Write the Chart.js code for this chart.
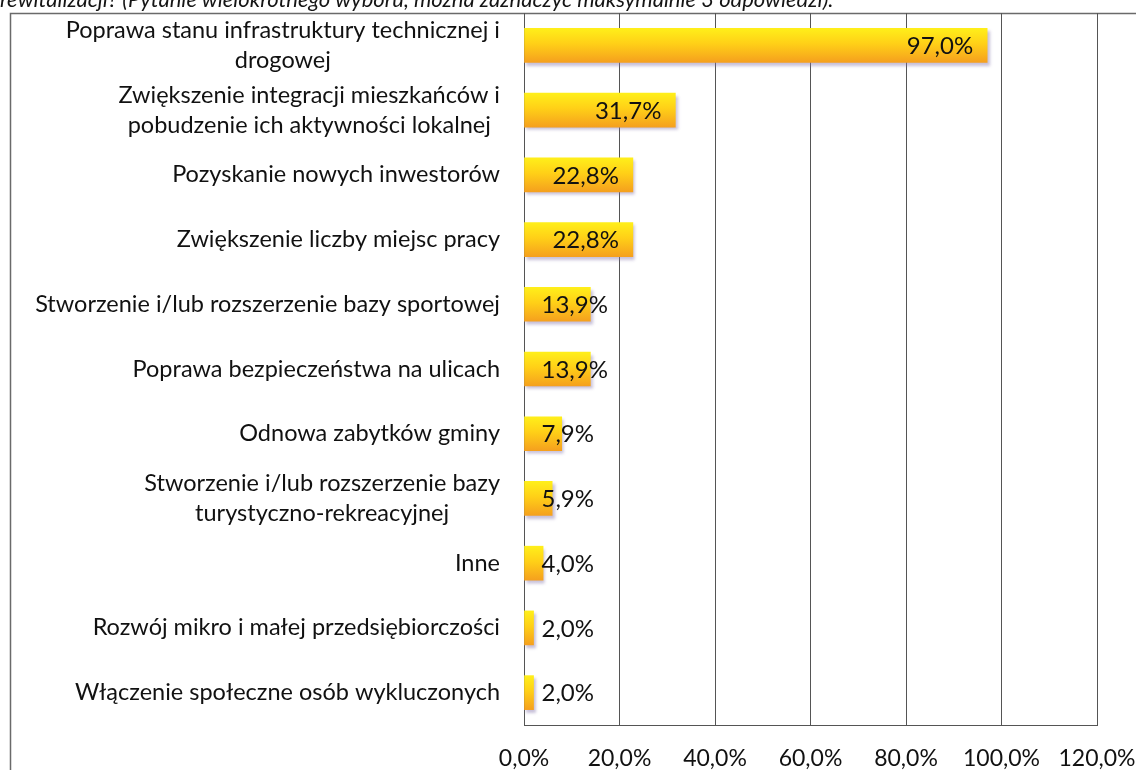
<!DOCTYPE html>
<html><head><meta charset="utf-8">
<script src="https://cdn.jsdelivr.net/npm/chart.js@4/dist/chart.umd.min.js"></script>
<style>
html,body{margin:0;padding:0;background:#fff;overflow:hidden}
#wrap{position:relative;width:1136px;height:770px;overflow:hidden}
#title{position:absolute;left:0;top:-15px;font:italic 22px Lato, sans-serif;color:#151515;white-space:nowrap}
canvas{position:absolute;left:0;top:0}
</style></head><body>
<div id="wrap"><canvas id="c" width="1136" height="770"></canvas><div id="title">rewitalizacji? (Pytanie wielokrotnego wyboru, można zaznaczyć maksymalnie 3 odpowiedzi).</div></div>
<script>
const categories = [
  ["Poprawa stanu infrastruktury technicznej i", "drogowej"],
  ["Zwiększenie integracji mieszkańców i", "pobudzenie ich aktywności lokalnej"],
  "Pozyskanie nowych inwestorów",
  "Zwiększenie liczby miejsc pracy",
  "Stworzenie i/lub rozszerzenie bazy sportowej",
  "Poprawa bezpieczeństwa na ulicach",
  "Odnowa zabytków gminy",
  ["Stworzenie i/lub rozszerzenie bazy", "turystyczno-rekreacyjnej"],
  "Inne",
  "Rozwój mikro i małej przedsiębiorczości",
  "Włączenie społeczne osób wykluczonych"
];
const values = [97.0, 31.7, 22.8, 22.8, 13.9, 13.9, 7.9, 5.9, 4.0, 2.0, 2.0];
const xTickValues = [0, 20, 40, 60, 80, 100, 120];

const FONT = 'Lato, "Open Sans", sans-serif';
const TEXT = '#111';
const fmt = v => v.toFixed(1).replace('.', ',') + '%';

function barGradient(ctx) {
  const chart = ctx.chart;
  const ys = chart.scales.y;
  if (!ys || ctx.dataIndex === undefined || ys.top === undefined) return '#FBC21A';
  const yc = ys.getPixelForValue(ctx.dataIndex);
  const g = chart.ctx.createLinearGradient(0, yc - 17, 0, yc + 17);
  g.addColorStop(0, '#FFEF1A');
  g.addColorStop(0.45, '#FFD017');
  g.addColorStop(1, '#F5A01E');
  return g;
}

const framePlugin = {
  id: 'frame',
  beforeDraw(chart) {
    const c = chart.ctx;
    c.save();
    c.strokeStyle = '#6a6a6a';
    c.lineWidth = 1.5;
    c.beginPath();
    c.moveTo(10.5, 770);
    c.lineTo(10.5, 13.5);
    c.lineTo(1136, 13.5);
    c.stroke();
    c.restore();
  }
};

const shadowPlugin = {
  id: 'barShadow',
  beforeDatasetsDraw(chart) {
    const c = chart.ctx;
    c.save();
    c.shadowColor = 'rgba(130,115,170,0.45)';
    c.shadowOffsetX = 2;
    c.shadowOffsetY = 3;
    c.shadowBlur = 3;
  },
  afterDatasetsDraw(chart) {
    chart.ctx.restore();
  }
};

const labelPlugin = {
  id: 'labels',
  afterDatasetsDraw(chart) {
    const c = chart.ctx;
    const meta = chart.getDatasetMeta(0);
    c.save();
    c.font = '24px ' + FONT;
    c.fillStyle = TEXT;
    c.textBaseline = 'middle';
    c.textAlign = 'left';
    meta.data.forEach((el, i) => {
      const t = fmt(values[i]);
      const w = c.measureText(t).width;
      let left = Math.max(el.x - 14 - w, el.base + 17);
      c.fillText(t, left, el.y + 1);
    });
    c.restore();
  }
};

const yLabelPlugin = {
  id: 'yLabels',
  afterDraw(chart) {
    const c = chart.ctx;
    const ys = chart.scales.y;
    const right = 500;
    const lineH = 30;
    c.save();
    c.font = '23.5px ' + FONT;
    c.fillStyle = TEXT;
    c.textBaseline = 'middle';
    c.textAlign = 'center';
    categories.forEach((lab, i) => {
      const lines = Array.isArray(lab) ? lab : [lab];
      const bw = Math.max(...lines.map(l => c.measureText(l).width));
      const cx = right - bw / 2;
      const yc = ys.getPixelForValue(i);
      lines.forEach((l, j) => {
        c.fillText(l, cx, yc + (j - (lines.length - 1) / 2) * lineH);
      });
    });
    c.restore();
  }
};

new Chart(document.getElementById('c'), {
  type: 'bar',
  data: {
    labels: categories,
    datasets: [{
      data: values,
      backgroundColor: barGradient,
      borderWidth: 0,
      barThickness: 34
    }]
  },
  options: {
    indexAxis: 'y',
    responsive: false,
    animation: false,
    devicePixelRatio: 1,
    layout: { padding: { top: 13, right: 39, bottom: 0, left: 0 } },
    plugins: { legend: { display: false }, tooltip: { enabled: false } },
    scales: {
      x: {
        min: 0, max: 120,
        afterBuildTicks(s) { s.ticks = xTickValues.map(v => ({ value: v })); },
        afterFit(s) { s.height = 45; s.paddingLeft = 0; s.paddingRight = 0; },
        grid: { color: '#555', lineWidth: 1, drawTicks: false },
        border: { display: true, color: '#555', width: 1 },
        ticks: {
          padding: 20,
          color: TEXT,
          font: { family: FONT, size: 23 },
          callback: v => fmt(v),
          maxRotation: 0
        }
      },
      y: {
        afterFit(s) { s.width = 524; s.paddingTop = 0; s.paddingBottom = 0; },
        grid: { display: false },
        border: { display: true, color: '#555', width: 1 },
        ticks: { display: false }
      }
    }
  },
  plugins: [framePlugin, shadowPlugin, labelPlugin, yLabelPlugin]
});
</script>
</body></html>
